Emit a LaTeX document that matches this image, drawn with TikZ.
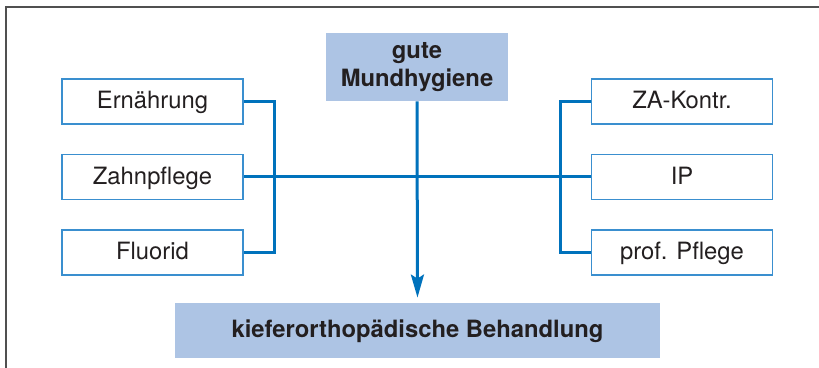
\documentclass[tikz,border=0pt]{standalone}
\usepackage{fontspec}
\setmainfont{TeX Gyre Heros}
\usetikzlibrary{arrows.meta}
\definecolor{lineblue}{RGB}{0,114,188}
\definecolor{boxblue}{RGB}{58,143,207}
\definecolor{fillblue}{RGB}{173,196,228}
\definecolor{txt}{RGB}{35,31,32}
\definecolor{framegray}{RGB}{80,80,80}
\tikzset{
  smallbox/.style={draw=boxblue, line width=0.75pt, fill=white, minimum width=90.5pt, minimum height=22.5pt, inner sep=0pt, text height=9pt, text depth=1.5pt, text=txt, font=\fontsize{11.9}{14}\selectfont},
  bigbox/.style={fill=fillblue, inner sep=0pt, text=txt, align=center, font=\fontsize{11.9}{14}\selectfont\bfseries},
  conn/.style={draw=lineblue, line width=1.5pt},
}
\begin{document}
\begin{tikzpicture}[x=0.5pt,y=-0.5pt]
\useasboundingbox (0,0) rectangle (819,368);
\draw[framegray, line width=1pt] (6,372) -- (6,7) -- (823,7);
\node[smallbox] (ern) at (152.5,101.5) {Ernährung};
\node[smallbox] (zahn) at (152.5,177) {Zahnpflege};
\node[smallbox] (flu) at (152.5,252.5) {Fluorid};
\node[smallbox] (za) at (682,101.5) {ZA-Kontr.};
\node[smallbox] (ip) at (682,177) {IP};
\node[smallbox] (pp) at (682,252.5) {prof. Pflege};
\node[bigbox, minimum width=91pt, minimum height=34pt] (top) at (417,67) {gute\\Mundhygiene};
\node[bigbox, minimum width=242.5pt, minimum height=27.5pt, text height=9pt, text depth=1.5pt] (bot) at (417.5,330.5) {kieferorthopädische Behandlung};
\coordinate (lb) at (274,177);
\coordinate (rb) at (560,177);
\draw[conn] (ern.east) -| (lb) |- (flu.east);
\draw[conn] (za.west) -| (rb) |- (pp.west);
\draw[conn] (zahn.east) -- (ip.west);
\draw[conn, -{Stealth[length=11.5pt, width=6.5pt, inset=2pt]}, shorten >=2.5pt] (top.south) -- (bot.north);
\end{tikzpicture}
\end{document}
